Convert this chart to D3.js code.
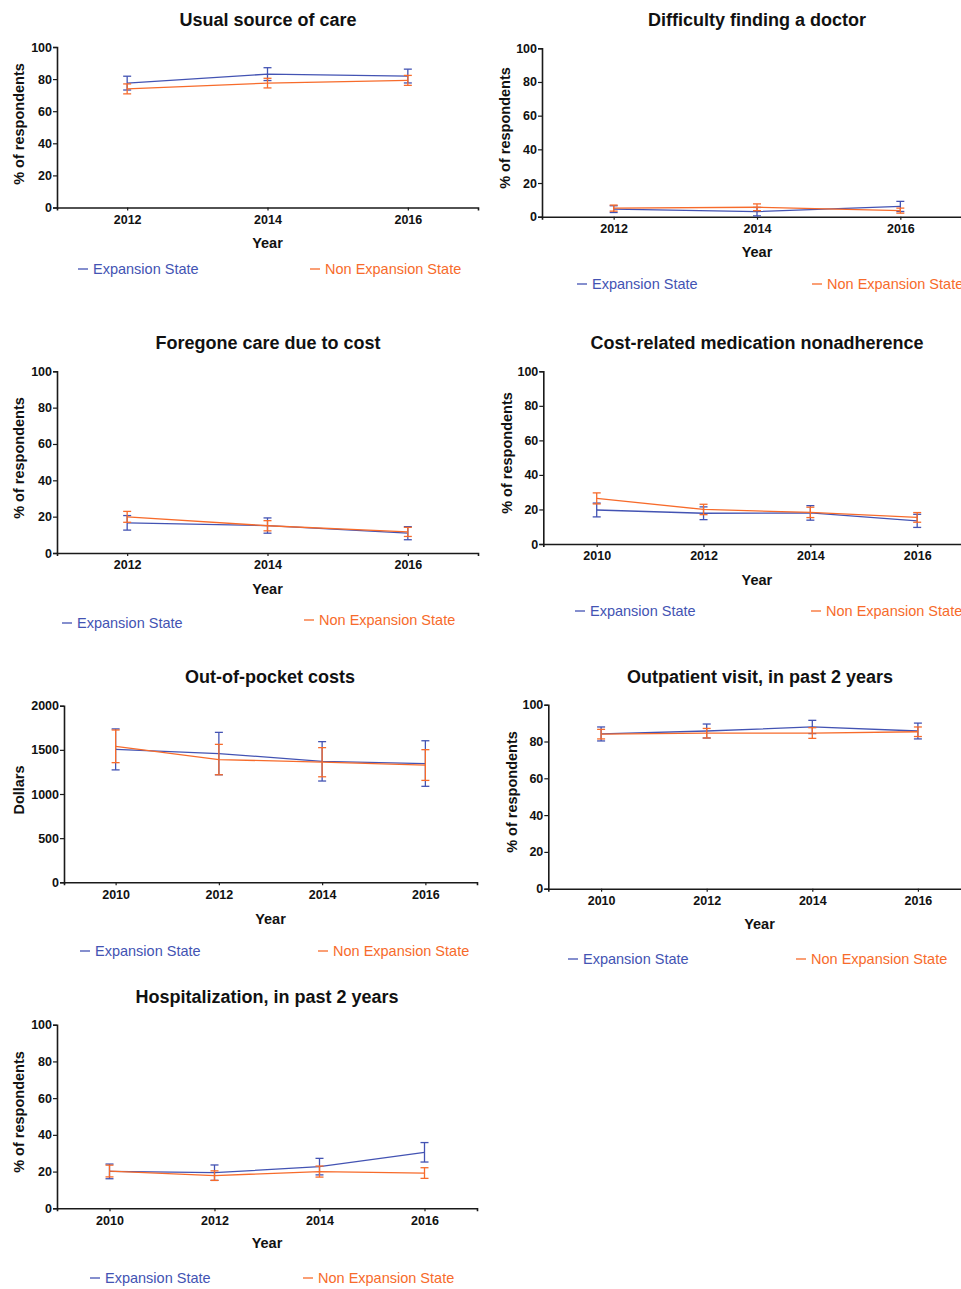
<!DOCTYPE html>
<html>
<head>
<meta charset="utf-8">
<script src="https://cdn.jsdelivr.net/npm/d3@7"></script>
<style>
  html, body { margin: 0; padding: 0; background: #fff; }
  svg { display: block; font-family: "Liberation Sans", Arial, sans-serif; }
</style>
</head>
<body>
<svg id="chart" width="961" height="1289"></svg>
<script>
// ---------- DATA ----------
const seriesNames = ["Expansion State", "Non Expansion State"];
const years3 = [2012, 2014, 2016];
const years4 = [2010, 2012, 2014, 2016];
const pctTicks = [0, 20, 40, 60, 80, 100];
const dollarTicks = [0, 500, 1000, 1500, 2000];

const usualExp = [77.5, 83.1, 81.9];
const usualExpErr = [4.3, 4.0, 4.3];
const usualNon = [73.9, 77.5, 79.2];
const usualNonErr = [3.1, 3.0, 3.1];

const diffExp = [4.5, 3.0, 6.1];
const diffExpErr = [2.0, 2.5, 3.0];
const diffNon = [5.1, 5.6, 3.6];
const diffNonErr = [1.8, 2.0, 1.5];

const foregoneExp = [16.6, 15.1, 10.9];
const foregoneExpErr = [4.0, 4.2, 3.6];
const foregoneNon = [19.9, 15.0, 11.6];
const foregoneNonErr = [3.0, 2.8, 2.5];

const medExp = [19.7, 17.8, 18.0, 13.4];
const medExpErr = [4.0, 3.7, 4.2, 3.8];
const medNon = [26.4, 20.0, 18.3, 15.4];
const medNonErr = [3.2, 3.0, 3.0, 2.8];

const oopExp = [1505, 1458, 1370, 1345];
const oopExpErr = [232, 240, 223, 258];
const oopNon = [1540, 1390, 1360, 1328];
const oopNonErr = [185, 172, 165, 174];

const outpExp = [84.1, 85.7, 87.9, 85.7];
const outpExpErr = [3.8, 3.8, 3.6, 4.3];
const outpNon = [84.0, 84.5, 84.6, 85.3];
const outpNonErr = [2.6, 2.6, 2.9, 2.6];

const hospExp = [20.1, 19.4, 22.7, 30.5];
const hospExpErr = [4.0, 4.2, 4.5, 5.3];
const hospNon = [20.3, 17.8, 20.0, 19.2];
const hospNonErr = [3.2, 2.6, 3.0, 2.9];

// ---------- PANELS (data refs + layout) ----------
const panels = [
  { title: "Usual source of care", ylabel: "% of respondents", years: years3, xdom: [2011, 2017], ydom: [0, 100], yticks: pctTicks,
    exp: usualExp, expErr: usualExpErr, non: usualNon, nonErr: usualNonErr,
    L: { xL: 57, xR: 478, yT: 47, yB: 207.5, tx: 268, ty: 20, ylx: 19, yly: 124, yearY: 243, legY: [269, 269], legX: [78, 310] } },
  { title: "Difficulty finding a doctor", ylabel: "% of respondents", years: years3, xdom: [2011, 2017], ydom: [0, 100], yticks: pctTicks,
    exp: diffExp, expErr: diffExpErr, non: diffNon, nonErr: diffNonErr,
    L: { xL: 542, xR: 972, yT: 48.3, yB: 216.7, tx: 757, ty: 20, ylx: 505, yly: 128, yearY: 252, legY: [284, 284], legX: [577, 812] } },
  { title: "Foregone care due to cost", ylabel: "% of respondents", years: years3, xdom: [2011, 2017], ydom: [0, 100], yticks: pctTicks,
    exp: foregoneExp, expErr: foregoneExpErr, non: foregoneNon, nonErr: foregoneNonErr,
    L: { xL: 57, xR: 478, yT: 371.3, yB: 553, tx: 268, ty: 343, ylx: 19, yly: 458, yearY: 589, legY: [623, 620], legX: [62, 304] } },
  { title: "Cost-related medication nonadherence", ylabel: "% of respondents", years: years4, xdom: [2009, 2017], ydom: [0, 100], yticks: pctTicks,
    exp: medExp, expErr: medExpErr, non: medNon, nonErr: medNonErr,
    L: { xL: 543.3, xR: 970.6, yT: 371.3, yB: 544, tx: 757, ty: 343, ylx: 507, yly: 453, yearY: 580, legY: [611, 611], legX: [575, 811] } },
  { title: "Out-of-pocket costs", ylabel: "Dollars", years: years4, xdom: [2009, 2017], ydom: [0, 2000], yticks: dollarTicks,
    exp: oopExp, expErr: oopExpErr, non: oopNon, nonErr: oopNonErr,
    L: { xL: 64, xR: 477, yT: 705.7, yB: 882.3, tx: 270, ty: 677, ylx: 19, yly: 790, yearY: 919, legY: [951, 951], legX: [80, 318] } },
  { title: "Outpatient visit, in past 2 years", ylabel: "% of respondents", years: years4, xdom: [2009, 2017], ydom: [0, 100], yticks: pctTicks,
    exp: outpExp, expErr: outpExpErr, non: outpNon, nonErr: outpNonErr,
    L: { xL: 548.3, xR: 970.7, yT: 704.7, yB: 888.7, tx: 760, ty: 677, ylx: 512, yly: 792, yearY: 924, legY: [959, 959], legX: [568, 796] } },
  { title: "Hospitalization, in past 2 years", ylabel: "% of respondents", years: years4, xdom: [2009, 2017], ydom: [0, 100], yticks: pctTicks,
    exp: hospExp, expErr: hospExpErr, non: hospNon, nonErr: hospNonErr,
    L: { xL: 57, xR: 477, yT: 1024.7, yB: 1208.3, tx: 267, ty: 997, ylx: 19, yly: 1112, yearY: 1243, legY: [1278, 1278], legX: [90, 303] } }
];

const colors = ["#4353b3", "#f76b2b"];
const axisColor = "#1a1a1a";
const svg = d3.select("#chart");

panels.forEach(p => {
  const L = p.L;
  const g = svg.append("g");
  const x = d3.scaleLinear().domain(p.xdom).range([L.xL, L.xR]);
  const y = d3.scaleLinear().domain(p.ydom).range([L.yB, L.yT]);

  // title
  g.append("text").attr("x", L.tx).attr("y", L.ty).attr("dy", "0.35em")
    .attr("text-anchor", "middle").attr("font-size", 18).attr("font-weight", "bold").attr("fill", "#111")
    .text(p.title);

  // y axis
  const ya = g.append("g").attr("transform", `translate(${L.xL},0)`)
    .call(d3.axisLeft(y).tickValues(p.yticks).tickSizeOuter(0).tickSize(4).tickPadding(1).tickFormat(d3.format("d")));
  ya.select(".domain").attr("stroke", axisColor).attr("stroke-width", 1.6);
  ya.selectAll(".tick line").attr("stroke", axisColor).attr("stroke-width", 1.2);
  ya.selectAll(".tick text").attr("font-size", 12.5).attr("font-weight", "bold").attr("fill", "#111")
    .attr("font-family", "Liberation Sans, Arial, sans-serif");

  // x axis
  const xa = g.append("g").attr("transform", `translate(0,${L.yB})`)
    .call(d3.axisBottom(x).tickValues(p.years).tickSizeOuter(0).tickSize(3).tickPadding(4.5).tickFormat(d3.format("d")));
  xa.select(".domain").attr("stroke", axisColor).attr("stroke-width", 1.6);
  xa.selectAll(".tick line").attr("stroke", axisColor).attr("stroke-width", 1.2);
  xa.selectAll(".tick text").attr("font-size", 12.5).attr("font-weight", "bold").attr("fill", "#111")
    .attr("font-family", "Liberation Sans, Arial, sans-serif");

  // axis titles
  g.append("text").attr("x", (L.xL + L.xR) / 2).attr("y", L.yearY).attr("dy", "0.35em")
    .attr("text-anchor", "middle").attr("font-size", 14.5).attr("font-weight", "bold").attr("fill", "#111")
    .text("Year");
  g.append("text").attr("transform", `translate(${L.ylx},${L.yly}) rotate(-90)`).attr("dy", "0.35em")
    .attr("text-anchor", "middle").attr("font-size", 14.5).attr("font-weight", "bold").attr("fill", "#111")
    .text(p.ylabel);

  // series
  const series = [
    { vals: p.exp, errs: p.expErr, color: colors[0] },
    { vals: p.non, errs: p.nonErr, color: colors[1] }
  ];
  const line = d3.line().x(d => x(d.year)).y(d => y(d.v));
  series.forEach(s => {
    const pts = p.years.map((yr, i) => ({ year: yr, v: s.vals[i], e: s.errs[i] }));
    g.append("path").datum(pts).attr("d", line).attr("fill", "none")
      .attr("stroke", s.color).attr("stroke-width", 1.3);
    const eb = g.append("g").attr("stroke", s.color).attr("stroke-width", 1.3);
    pts.forEach(d => {
      const cx = x(d.year), top = y(d.v + d.e), bot = y(d.v - d.e);
      eb.append("line").attr("x1", cx).attr("x2", cx).attr("y1", top).attr("y2", bot);
      eb.append("line").attr("x1", cx - 4).attr("x2", cx + 4).attr("y1", top).attr("y2", top);
      eb.append("line").attr("x1", cx - 4).attr("x2", cx + 4).attr("y1", bot).attr("y2", bot);
    });
  });

  // legend
  seriesNames.forEach((name, i) => {
    const lx = L.legX[i], ly = L.legY[i];
    g.append("line").attr("x1", lx).attr("x2", lx + 10).attr("y1", ly).attr("y2", ly)
      .attr("stroke", colors[i]).attr("stroke-width", 1.3);
    g.append("text").attr("x", lx + 15).attr("y", ly).attr("dy", "0.35em")
      .attr("font-size", 14.5).attr("fill", colors[i]).text(name);
  });
});
</script>
</body>
</html>
